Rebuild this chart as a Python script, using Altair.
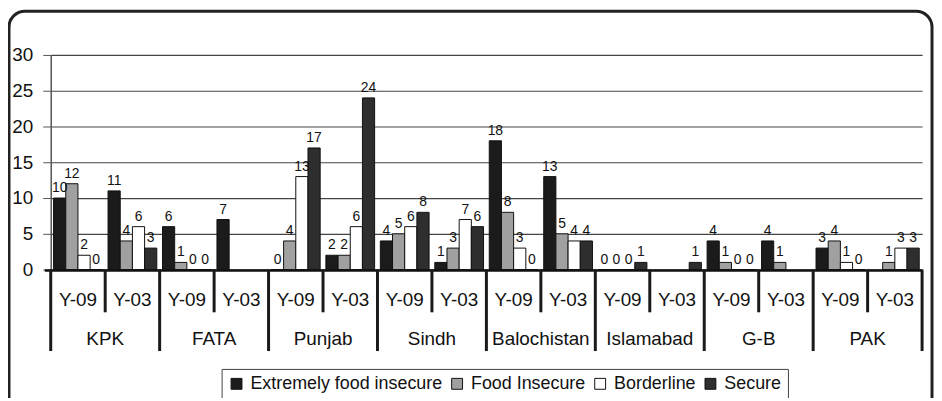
import altair as alt
import pandas as pd

regions = ["KPK", "FATA", "Punjab", "Sindh", "Balochistan", "Islamabad", "G-B", "PAK"]
years = ["Y-09", "Y-03"]
series = ["Extremely food insecure", "Food Insecure", "Borderline", "Secure"]
colors = ["#1b1b1b", "#a0a0a0", "#ffffff", "#2e2e2e"]

# values per group: KPK Y-09, KPK Y-03, FATA Y-09, FATA Y-03, ...
extreme = [10, 11, 6, 7, 0, 2, 4, 1, 18, 13, 0, None, 4, 4, 3, None]
food = [12, 4, 1, None, 4, 2, 5, 3, 8, 5, 0, None, 1, 1, 4, 1]
border = [2, 6, 0, None, 13, 6, 6, 7, 3, 4, 0, None, 0, None, 1, 3]
secure = [0, 3, 0, None, 17, 24, 8, 6, 0, 4, 1, 1, 0, None, 0, 3]
y_ticks = [0, 5, 10, 15, 20, 25, 30]

W, H = 877, 216
FONT = "Liberation Sans"

groups = []
rows = []
for ri, r in enumerate(regions):
    for yi, y in enumerate(years):
        gi = ri * 2 + yi
        g = f"{r}|{y}"
        groups.append(g)
        for s, vals in zip(series, [extreme, food, border, secure]):
            v = vals[gi]
            if v is not None:
                rows.append({"group": g, "series": s, "value": v})
df = pd.DataFrame(rows)

x_enc = alt.X("group:N", sort=groups, axis=None,
              scale=alt.Scale(paddingInner=0.105, paddingOuter=0.0525))
xo_enc = alt.XOffset("series:N", sort=series,
                     scale=alt.Scale(paddingInner=0, paddingOuter=0))
y_enc = alt.Y("value:Q",
              scale=alt.Scale(domain=[0, 30], nice=False),
              axis=alt.Axis(values=y_ticks, title=None,
                            grid=True, gridColor="#444", gridWidth=1.2,
                            domainColor="#555", domainWidth=1.5,
                            tickColor="#555", tickSize=8, tickWidth=1,
                            labelFont=FONT, labelFontSize=19, labelColor="#111",
                            labelPadding=10, labelOverlap=False))

bars = alt.Chart(df).mark_bar(stroke="#111", strokeWidth=1).encode(
    x=x_enc, xOffset=xo_enc, y=y_enc,
    color=alt.Color("series:N", sort=series,
                    scale=alt.Scale(domain=series, range=colors),
                    legend=alt.Legend(title=None, orient="none", legendX=172, legendY=316,
                                      direction="horizontal", strokeColor="#444",
                                      padding=6, fillColor="white",
                                      symbolType="square", symbolSize=120,
                                      symbolStrokeColor="#111", symbolStrokeWidth=1,
                                      labelFont=FONT, labelFontSize=18, labelColor="#111",
                                      labelLimit=400, columnPadding=5, labelOffset=5)),
)

labels = alt.Chart(df).mark_text(font=FONT, fontSize=14, baseline="bottom", dy=-3,
                                 color="#111").encode(
    x=x_enc, xOffset=xo_enc, y=y_enc, text="value:Q")

# category axis (hierarchical)
year_df = pd.DataFrame({"pos": [i + 0.5 for i in range(16)],
                        "label": [years[i % 2] for i in range(16)]})
reg_df = pd.DataFrame({"pos": [i * 2 + 1 for i in range(len(regions))],
                       "label": regions})
outer_df = pd.DataFrame({"pos": [i * 2 for i in range(len(regions) + 1)]})
inner_df = pd.DataFrame({"pos": [i * 2 + 1 for i in range(len(regions))]})

xq = alt.X("pos:Q", scale=alt.Scale(domain=[0, 16], nice=False, zero=True), axis=None)

year_text = alt.Chart(year_df).mark_text(font=FONT, fontSize=19, color="#111",
                                         baseline="middle").encode(
    x=xq, y=alt.value(H + 31), text="label:N")
reg_text = alt.Chart(reg_df).mark_text(font=FONT, fontSize=19, color="#111",
                                       baseline="middle").encode(
    x=xq, y=alt.value(H + 70), text="label:N")
outer_rules = alt.Chart(outer_df).mark_rule(color="#1a1a1a", strokeWidth=3).encode(
    x=xq, y=alt.value(H), y2=alt.value(H + 82))
inner_rules = alt.Chart(inner_df).mark_rule(color="#1a1a1a", strokeWidth=3).encode(
    x=xq, y=alt.value(H), y2=alt.value(H + 43))

one = pd.DataFrame({"k": [0]})
baseline = alt.Chart(one).mark_rule(color="#111", strokeWidth=2.5).encode(
    x=alt.value(-6), x2=alt.value(W), y=alt.value(H + 1))
frame = alt.Chart(one).mark_rect(fillOpacity=0, stroke="#222", strokeWidth=3,
                                 cornerRadius=16).encode(
    x=alt.value(-42), x2=alt.value(887), y=alt.value(-44), y2=alt.value(370))

chart = alt.layer(
    frame, bars, labels, baseline, outer_rules, inner_rules, year_text, reg_text
).resolve_scale(x="independent").properties(
    width=W, height=H,
    autosize=alt.AutoSizeParams(type="none"),
    padding={"left": 43, "top": 46, "right": 12, "bottom": 128},
    background="white",
).configure_view(stroke=None)

chart.save("out.html", embed_options={"renderer": "svg", "actions": False})
